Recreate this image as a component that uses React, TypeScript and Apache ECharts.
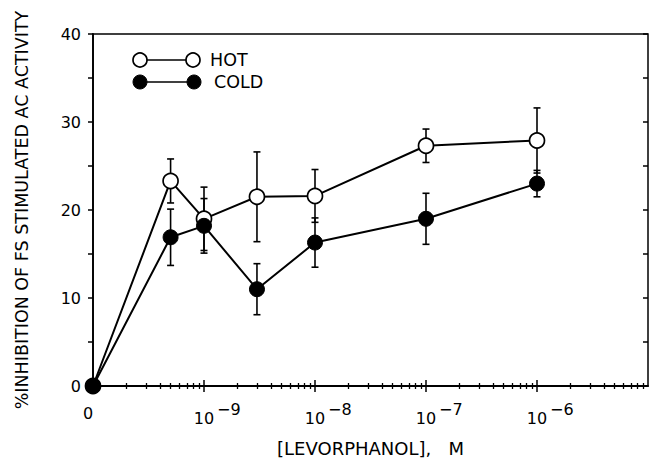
import React, { useEffect, useRef } from "react";
import * as echarts from "echarts";

const concentrations = [0, 5e-10, 1e-9, 3e-9, 1e-8, 1e-7, 1e-6];
const hotMean = [0, 23.3, 19.0, 21.5, 21.6, 27.3, 27.9];
const hotSem = [0, 2.5, 3.6, 5.1, 3.0, 1.9, 3.7];
const coldMean = [0, 16.9, 18.2, 11.0, 16.3, 19.0, 23.0];
const coldSem = [0, 3.2, 3.1, 2.9, 2.8, 2.9, 1.5];
const xMajorExps = [-10, -9, -8, -7, -6];
const xDecades = [-10, -9, -8, -7, -6];
const minorMultipliers = [2, 3, 4, 5, 6, 7, 8, 9];
const legendNames = ["HOT", "COLD"];

const FONT = "DejaVu Sans";

function xPos(c: number) {
  return c === 0 ? -10 : Math.log10(c);
}

export default function App() {
  const ref = useRef<HTMLDivElement>(null);
  useEffect(() => {
    if (!ref.current) return;
    const chart = echarts.init(ref.current, null, { renderer: "svg" });
    const minorVals: number[] = [];
    xDecades.forEach((d) => minorMultipliers.forEach((m) => minorVals.push(d + Math.log10(m))));

    const hotData = concentrations.map((c, i) => [xPos(c), hotMean[i]]);
    const coldData = concentrations.map((c, i) => [xPos(c), coldMean[i]]);
    const errData: number[][] = [];
    concentrations.forEach((c, i) => {
      if (hotSem[i] > 0) errData.push([xPos(c), hotMean[i] - hotSem[i], hotMean[i] + hotSem[i]]);
      if (coldSem[i] > 0) errData.push([xPos(c), coldMean[i] - coldSem[i], coldMean[i] + coldSem[i]]);
    });

    const baseX = {
      type: "value" as const,
      min: -10,
      max: -5,
      position: "bottom" as const,
      splitLine: { show: false },
      axisLine: { show: false },
      axisLabel: { show: false },
      axisTick: { show: false },
    };

    const option: any = {
      animation: false,
      grid: {
        left: 93,
        right: 4,
        top: 34,
        bottom: 75,
        outerBoundsMode: "none",
        containLabel: false,
        show: true,
        borderColor: "#000",
        borderWidth: 1.5,
        backgroundColor: "transparent",
      },
      xAxis: [
        {
          ...baseX,
          axisLine: { show: true, lineStyle: { color: "#000", width: 1.8 } },
          name: "[LEVORPHANOL],\u00a0\u00a0\u00a0M",
          nameLocation: "middle",
          nameGap: 53,
          nameTextStyle: { fontFamily: FONT, fontSize: 18, color: "#000" },
          axisTick: { show: true, customValues: xMajorExps, length: 6, lineStyle: { color: "#000", width: 1.5 } },
          axisLabel: {
            show: true,
            customValues: xMajorExps,
            margin: 24,
            color: "#000",
            fontFamily: FONT,
            fontSize: 16,
            formatter: (v: number) => (v === -10 ? "{z|0}" : "{b|10}"),
            rich: {
              z: { fontFamily: FONT, fontSize: 16, lineHeight: 6, padding: [0, 10, 0, 0], color: "#000" },
              b: { fontFamily: FONT, fontSize: 16, color: "#000" },
            },
          },
        },
        {
          ...baseX,
          axisTick: { show: false },
          axisLabel: {
            show: true,
            customValues: xMajorExps.slice(1),
            margin: 15,
            align: "left",
            color: "#000",
            fontFamily: FONT,
            fontSize: 16,
            formatter: (v: number) => "{p| }{s|\u2212" + -v + "}",
            rich: {
              p: { fontFamily: FONT, fontSize: 16, width: 13 },
              s: { fontFamily: FONT, fontSize: 16, color: "#000" },
            },
          },
        },
        {
          ...baseX,
          axisTick: { show: true, inside: true, customValues: xMajorExps.slice(1), length: 6, lineStyle: { color: "#000", width: 1.5 } },
        },
        {
          ...baseX,
          axisTick: { show: true, customValues: minorVals, length: 3, lineStyle: { color: "#000", width: 1.3 } },
        },
        {
          ...baseX,
          axisTick: { show: true, inside: true, customValues: minorVals, length: 3, lineStyle: { color: "#000", width: 1.3 } },
        },
      ],
      yAxis: [
        {
          type: "value",
          min: 0,
          max: 40,
          interval: 5,
          splitLine: { show: false },
          axisLine: { show: true, lineStyle: { color: "#000", width: 1.8 } },
          axisTick: { show: true, length: 5, lineStyle: { color: "#000", width: 1.5 } },
          axisLabel: {
            margin: 12,
            color: "#000",
            fontFamily: FONT,
            fontSize: 16,
            formatter: (v: number) => (v % 10 === 0 ? String(v) : ""),
          },
          name: "%INHIBITION OF FS STIMULATED AC ACTIVITY",
          nameLocation: "middle",
          nameGap: 62,
          nameRotate: 90,
          nameTextStyle: { fontFamily: FONT, fontSize: 17.5, color: "#000" },
        },
        {
          type: "value",
          min: 0,
          max: 40,
          interval: 5,
          splitLine: { show: false },
          axisLine: { show: false },
          axisLabel: { show: false },
          axisTick: { show: true, inside: true, length: 5, lineStyle: { color: "#000", width: 1.5 } },
        },
      ],
      series: [
        {
          type: "custom",
          z: 1,
          clip: false,
          data: errData,
          renderItem: (params: any, api: any) => {
            const x = api.value(0);
            const lo = api.coord([x, api.value(1)]);
            const hi = api.coord([x, api.value(2)]);
            const hw = 3.5;
            const st = { stroke: "#000", lineWidth: 1.6 };
            return {
              type: "group",
              children: [
                { type: "line", shape: { x1: hi[0], y1: hi[1], x2: lo[0], y2: lo[1] }, style: st },
                { type: "line", shape: { x1: hi[0] - hw, y1: hi[1], x2: hi[0] + hw, y2: hi[1] }, style: st },
                { type: "line", shape: { x1: lo[0] - hw, y1: lo[1], x2: lo[0] + hw, y2: lo[1] }, style: st },
              ],
            };
          },
        },
        {
          type: "line",
          name: legendNames[0],
          z: 2,
          data: hotData,
          symbol: "circle",
          symbolSize: 15,
          lineStyle: { color: "#000", width: 2 },
          itemStyle: { color: "#fff", borderColor: "#000", borderWidth: 1.7 },
        },
        {
          type: "line",
          name: legendNames[1],
          z: 3,
          data: coldData,
          symbol: "circle",
          symbolSize: 15,
          lineStyle: { color: "#000", width: 2 },
          itemStyle: { color: "#000", borderColor: "#000", borderWidth: 1 },
        },
      ],
      graphic: [
        { type: "line", shape: { x1: 147, y1: 60, x2: 186, y2: 60 }, style: { stroke: "#000", lineWidth: 1.6 } },
        { type: "circle", shape: { cx: 140, cy: 60, r: 7 }, style: { fill: "#fff", stroke: "#000", lineWidth: 1.7 } },
        { type: "circle", shape: { cx: 193, cy: 60, r: 7 }, style: { fill: "#fff", stroke: "#000", lineWidth: 1.7 } },
        { type: "text", x: 210, y: 60, style: { text: legendNames[0], fontFamily: FONT, fontSize: 17.5, fill: "#000", verticalAlign: "middle" } },
        { type: "line", shape: { x1: 147, y1: 82, x2: 187, y2: 82 }, style: { stroke: "#000", lineWidth: 1.6 } },
        { type: "circle", shape: { cx: 140, cy: 82, r: 7 }, style: { fill: "#000", stroke: "#000", lineWidth: 1 } },
        { type: "circle", shape: { cx: 194, cy: 82, r: 7 }, style: { fill: "#000", stroke: "#000", lineWidth: 1 } },
        { type: "text", x: 214, y: 82, style: { text: legendNames[1], fontFamily: FONT, fontSize: 17.5, fill: "#000", verticalAlign: "middle" } },
      ],
    };
    chart.setOption(option);
    return () => chart.dispose();
  }, []);
  return <div ref={ref} style={{ width: 652, height: 461, position: "absolute", left: 0, top: 0 }} />;
}
